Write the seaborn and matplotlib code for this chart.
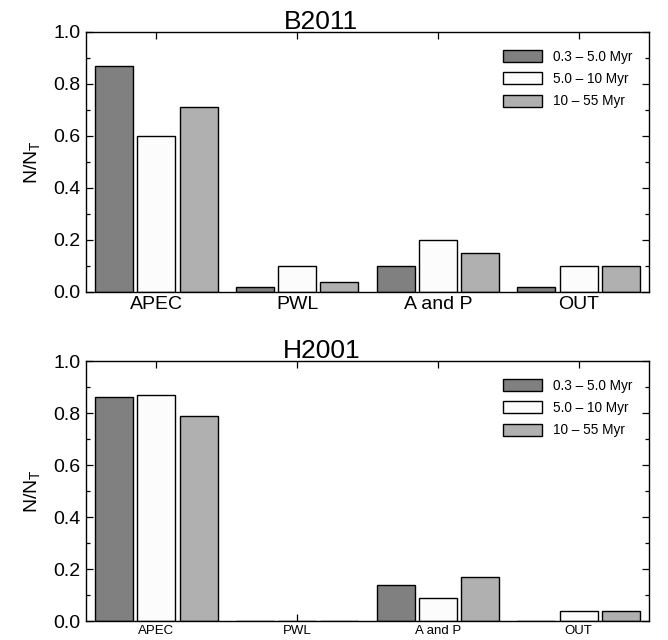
import matplotlib
matplotlib.use("Agg")
import matplotlib.pyplot as plt
import seaborn as sns
import pandas as pd
from matplotlib.ticker import MultipleLocator

sns.set_style("ticks")
plt.rcParams['font.family'] = ['Liberation Sans', 'DejaVu Sans']
plt.rcParams['mathtext.fontset'] = 'custom'
plt.rcParams['mathtext.rm'] = 'Liberation Sans'
plt.rcParams['mathtext.it'] = 'Liberation Sans'
for k in ['text.color', 'axes.labelcolor', 'xtick.color', 'ytick.color', 'axes.edgecolor']:
    plt.rcParams[k] = 'black'

categories = ["APEC", "PWL", "A and P", "OUT"]
age_groups = ["0.3 – 5.0 Myr", "5.0 – 10 Myr", "10 – 55 Myr"]
colors = ["#808080", "#fcfcfc", "#b0b0b0"]

b2011_young = [0.87, 0.02, 0.10, 0.02]
b2011_mid = [0.60, 0.10, 0.20, 0.10]
b2011_old = [0.71, 0.04, 0.15, 0.10]

h2001_young = [0.86, 0.00, 0.14, 0.00]
h2001_mid = [0.87, 0.00, 0.09, 0.04]
h2001_old = [0.79, 0.00, 0.17, 0.04]


def make_df(series):
    rows = []
    for age, vals in zip(age_groups, series):
        for cat, v in zip(categories, vals):
            rows.append({"model": cat, "age": age, "frac": v})
    return pd.DataFrame(rows)


panels = [
    ("B2011", make_df([b2011_young, b2011_mid, b2011_old]), 14),
    ("H2001", make_df([h2001_young, h2001_mid, h2001_old]), 9.5),
]

fig = plt.figure(figsize=(6.68, 6.40), dpi=100)
W, H = 668, 640
axes_boxes = [(86, 32, 649, 292), (86, 361, 649, 621)]

for (title, df, xfs), (l, t, r, b) in zip(panels, axes_boxes):
    ax = fig.add_axes([l / W, (H - b) / H, (r - l) / W, (b - t) / H])
    sns.barplot(data=df, x="model", y="frac", hue="age", order=categories,
                hue_order=age_groups, palette=colors, edgecolor="black",
                linewidth=1.0, width=0.9, gap=0.1, ax=ax, saturation=1)
    ax.set_xlim(-0.5, 3.5)
    ax.set_ylim(0, 1.0)
    ax.yaxis.set_major_locator(MultipleLocator(0.2))
    ax.yaxis.set_minor_locator(MultipleLocator(0.1))
    ax.tick_params(axis="both", which="both", direction="in", top=True, right=True,
                   colors="black")
    ax.tick_params(axis="both", which="major", length=5, width=0.9)
    ax.tick_params(axis="y", which="minor", length=3, width=0.9)
    ax.tick_params(axis="x", which="minor", bottom=False, top=False)
    ax.tick_params(axis="y", labelsize=14, pad=4)
    ax.tick_params(axis="x", labelsize=xfs, pad=3)
    ax.set_yticks([0.0, 0.2, 0.4, 0.6, 0.8, 1.0])
    ax.set_yticklabels(["0.0", "0.2", "0.4", "0.6", "0.8", "1.0"])
    ax.set_xlabel("")
    ax.set_ylabel(r"N/N$_\mathrm{T}$", fontsize=14, labelpad=8, color="black")
    ax.set_title(title, fontsize=19, pad=2, x=0.418, color="black")
    for sp in ax.spines.values():
        sp.set_linewidth(1.0)
        sp.set_color("black")
        sp.set_visible(True)
    leg = ax.legend(loc="upper right", frameon=False, fontsize=9.8,
                    handlelength=2.9, handleheight=1.0, labelspacing=0.62,
                    handletextpad=0.8, borderaxespad=0.6,
                    bbox_to_anchor=(0.995, 0.985))
    for txt in leg.get_texts():
        txt.set_color("black")

fig.savefig("out.png", dpi=100)
